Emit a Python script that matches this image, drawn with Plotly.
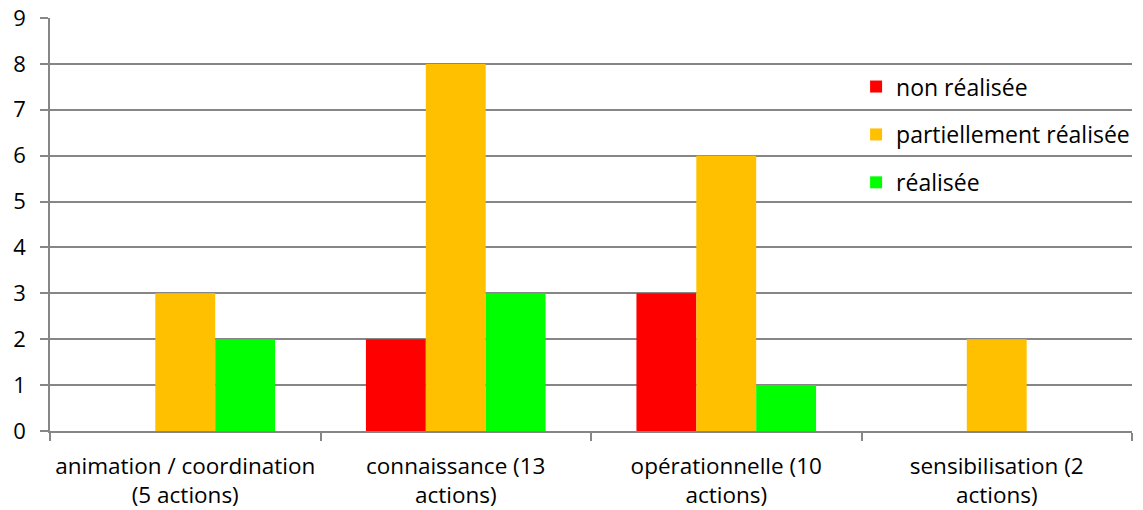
import plotly.graph_objects as go

categories = ["animation / coordination<br>(5 actions)", "connaissance (13<br>actions)",
              "opérationnelle (10<br>actions)", "sensibilisation (2<br>actions)"]
non_realisee = [0, 2, 3, 0]
partiellement = [3, 8, 6, 2]
realisee = [2, 3, 1, 0]
series_names = ["non réalisée", "partiellement réalisée", "réalisée"]
colors = ["#FF0000", "#FFC000", "#00FF00"]

FONT = "Open Sans"
fig = go.Figure()
for i, (name, vals) in enumerate(zip(series_names, [non_realisee, partiellement, realisee])):
    fig.add_trace(go.Bar(x=categories, y=vals, name=name, marker_color=colors[i],
                         marker_line_width=0, legendgroup=str(i)))

fig.update_layout(
    width=1143, height=510,
    margin=dict(l=50, r=8, t=18, b=79),
    plot_bgcolor="white", paper_bgcolor="white",
    barmode="group", bargap=0.336, bargroupgap=0,
    font=dict(family=FONT, size=23, color="black"),
    legend=dict(x=0.745, y=0.886, xanchor="left", yanchor="top",
                bgcolor="rgba(0,0,0,0)", font=dict(size=23),
                tracegroupgap=15, traceorder="grouped"),
    showlegend=True,
)
fig.update_xaxes(showgrid=False, showline=True, linecolor="#868686", linewidth=1.5,
                 ticks="outside", ticklen=8, tickcolor="#868686", tickwidth=1.5,
                 tickson="boundaries", tickfont=dict(size=22.5), automargin=False,
                 tickangle=0, ticklabelstandoff=14, ticklabeloverflow="allow")
fig.update_yaxes(range=[0, 9], dtick=1, showgrid=True, gridcolor="#868686", gridwidth=1.5,
                 showline=True, linecolor="#868686", linewidth=1.5,
                 ticks="outside", ticklen=8, tickcolor="#868686", tickwidth=1.5,
                 zeroline=False, tickfont=dict(size=22), automargin=False,
                 ticklabelstandoff=10, ticklabeloverflow="allow")

fig.write_html("out.html", config={"displayModeBar": False},
               post_script="document.body.style.margin='0';")
